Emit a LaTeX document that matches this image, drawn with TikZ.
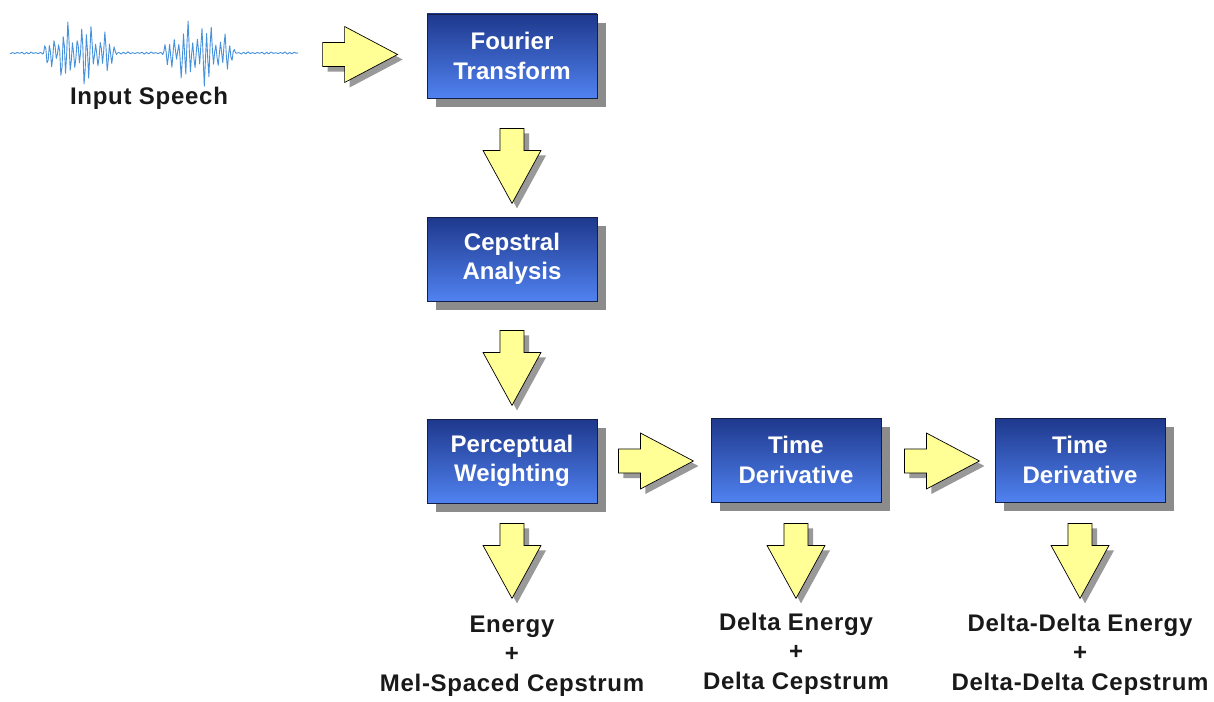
\documentclass[tikz,border=0pt]{standalone}
\usepackage{fontspec}
\setmainfont{Liberation Sans}
\usetikzlibrary{shadows,calc}
\definecolor{boxtop}{RGB}{30,56,140}
\definecolor{boxbot}{RGB}{80,130,240}
\definecolor{boxedge}{RGB}{20,30,70}
\definecolor{arrowfill}{RGB}{255,255,150}
\definecolor{wavecol}{RGB}{70,145,220}
\begin{document}
\begin{tikzpicture}[x=1pt,y=-1pt,
  stage/.style={draw=boxedge, line width=0.8pt, top color=boxtop, bottom color=boxbot,
    minimum width=170pt, minimum height=84pt, align=center, text=white,
    font=\fontsize{24}{29.5}\selectfont\bfseries,
    drop shadow={shadow xshift=9pt, shadow yshift=-9pt, fill=black!45, opacity=1}},
  outlabel/.style={align=center, text=black!90,
    font=\fontsize{24}{29.5}\selectfont\bfseries\addfontfeature{LetterSpace=3}},
  barrow/.style={fill=arrowfill, draw=black, line width=0.7pt, line join=miter},
  barrowshadow/.style={fill=black!40, draw=none},
  rarrow/.pic={
    \fill[barrowshadow] (5,-7) -- (27,-7) -- (27,-23) -- (80,5) -- (27,33) -- (27,17) -- (5,17) -- cycle;
    \draw[barrow] (0,-12) -- (22,-12) -- (22,-28) -- (75,0) -- (22,28) -- (22,12) -- (0,12) -- cycle;
  },
  darrow/.pic={
    \fill[barrowshadow] (-7,5) -- (-7,27) -- (-24,27) -- (5,80) -- (34,27) -- (17,27) -- (17,5) -- cycle;
    \draw[barrow] (-12,0) -- (-12,22) -- (-29,22) -- (0,75) -- (29,22) -- (12,22) -- (12,0) -- cycle;
  }]
\useasboundingbox[fill=white] (0,0) rectangle (1214,701);

% waveform
\draw[wavecol, line width=0.9pt, line join=round]
  plot[domain=10:298, samples=250, variable=\t]
  ({\t}, {53 + (1.3 + 37*max(0,1-((\t-80)/38)^2)^0.8 + 37*max(0,1-((\t-199)/37)^2)^0.8)
        *(0.75*sin(mod(\t,60)*78)+0.25*sin(mod(\t,60)*30+40))*(0.7+0.3*sin(mod(\t,60)*17))});
\node[outlabel] (speech) at (149,98) {Input Speech};

% stages
\node[stage] (ft) at (512,56) {Fourier\\Transform};
\node[stage] (ca) at (512,259) {Cepstral\\Analysis};
\node[stage] (pw) at (512,461) {Perceptual\\Weighting};
\node[stage] (td1) at (796,460) {Time\\Derivative};
\node[stage] (td2) at (1080,460) {Time\\Derivative};

% block arrows
\pic at ($(ft.west)+(-104,-1.5)$) {rarrow};
\pic at ($(ft.south)+(0,30)$) {darrow};
\pic at ($(ca.south)+(0,29)$) {darrow};
\pic at ($(pw.east)+(21,0)$) {rarrow};
\pic at ($(td1.east)+(23,1)$) {rarrow};
\pic at ($(pw.south)+(0,20)$) {darrow};
\pic at ($(td1.south)+(0,21)$) {darrow};
\pic at ($(td2.south)+(0,21)$) {darrow};

% outputs
\node[outlabel] (o1) at (512,656) {Energy\\+\\Mel-Spaced Cepstrum};
\node[outlabel] (o2) at (796,653.5) {Delta Energy\\+\\Delta Cepstrum};
\node[outlabel] (o3) at (1080,654.5) {Delta-Delta Energy\\+\\Delta-Delta Cepstrum};
\end{tikzpicture}
\end{document}
